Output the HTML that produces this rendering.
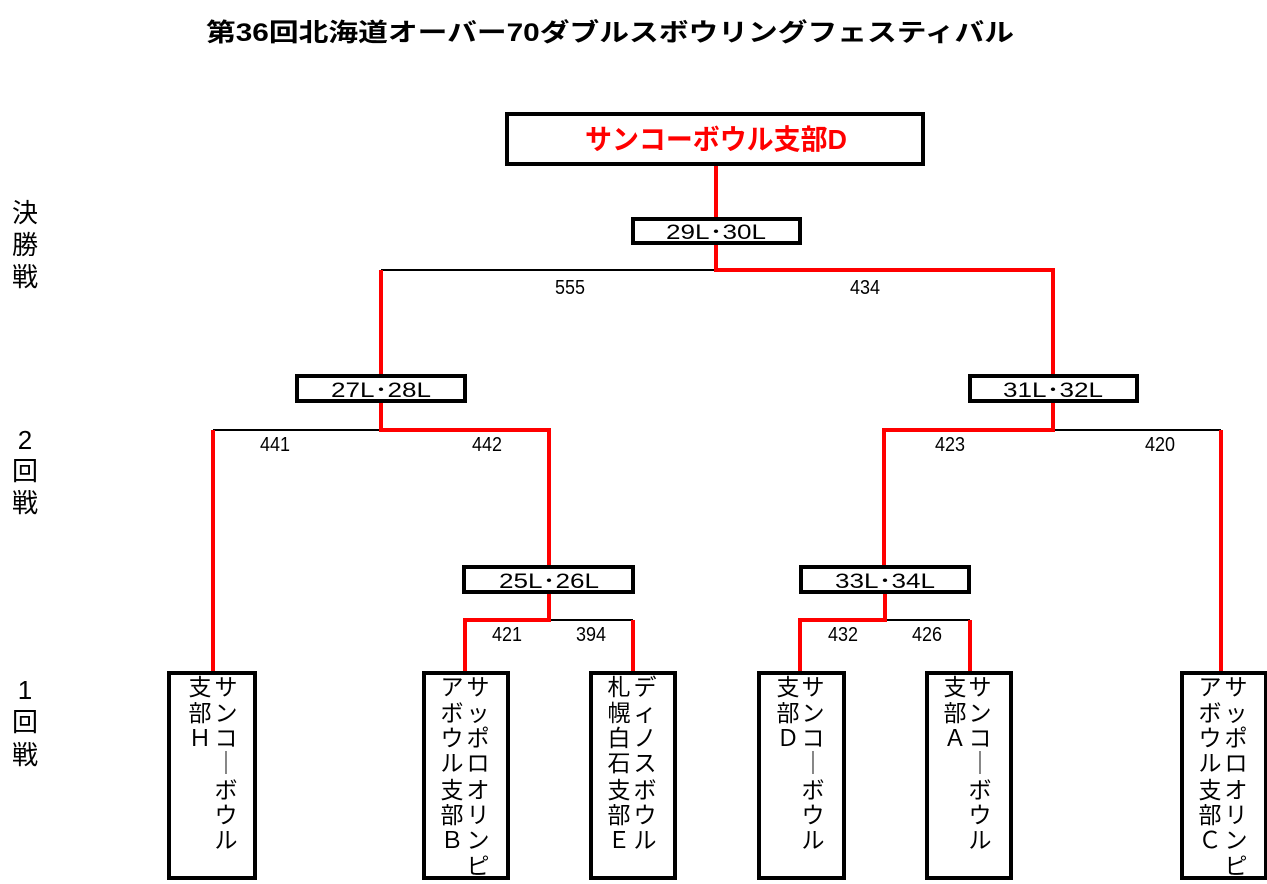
<!DOCTYPE html>
<html><head><meta charset="utf-8"><style>
html,body{margin:0;padding:0;background:#fff;}
svg{display:block;font-family:"Liberation Sans","Noto Sans CJK JP",sans-serif;}
</style></head><body>
<svg width="1267" height="884" viewBox="0 0 1267 884" xmlns="http://www.w3.org/2000/svg">
<text x="610" y="41" font-size="25" font-weight="bold" text-anchor="middle" textLength="808" lengthAdjust="spacingAndGlyphs">第36回北海道オーバー70ダブルスボウリングフェスティバル</text>

<g font-size="26" text-anchor="middle" dominant-baseline="central">
<text x="25" y="213">決</text><text x="25" y="245">勝</text><text x="25" y="277">戦</text>
<text x="25" y="440">2</text><text x="25" y="471">回</text><text x="25" y="503">戦</text>
<text x="25" y="690">1</text><text x="25" y="722">回</text><text x="25" y="755">戦</text>
</g>

<g stroke="#000" stroke-width="2" fill="none">
<line x1="381" y1="270" x2="716" y2="270"/>
<line x1="213" y1="430" x2="381" y2="430"/>
<line x1="1053" y1="430" x2="1221" y2="430"/>
<line x1="549" y1="620" x2="633" y2="620"/>
<line x1="885" y1="620" x2="970" y2="620"/>
</g>
<g stroke="#ff0000" stroke-width="4" fill="none">
<polyline points="716,165 716,270 1053,270 1053,375"/>
<line x1="381" y1="270" x2="381" y2="375"/>
<polyline points="381,402 381,430 549,430 549,566"/>
<line x1="213" y1="430" x2="213" y2="672"/>
<polyline points="1053,402 1053,430 884,430 884,566"/>
<line x1="1221" y1="430" x2="1221" y2="672"/>
<polyline points="549,593 549,620 465,620 465,672"/>
<line x1="633" y1="620" x2="633" y2="672"/>
<polyline points="885,593 885,620 800,620 800,672"/>
<line x1="970" y1="620" x2="970" y2="672"/>
</g>

<g stroke="#000" stroke-width="4" fill="#fff">
<rect x="507" y="114" width="416" height="50"/>
<rect x="633" y="219" width="167" height="24"/>
<rect x="297" y="376" width="168" height="25"/>
<rect x="970" y="376" width="167" height="25"/>
<rect x="464" y="567" width="169" height="25"/>
<rect x="801" y="567" width="168" height="25"/>
<rect x="169" y="673" width="86" height="205"/>
<rect x="424" y="673" width="84" height="205"/>
<rect x="591" y="673" width="84" height="205"/>
<rect x="759" y="673" width="85" height="205"/>
<rect x="927" y="673" width="84" height="205"/>
<rect x="1182" y="673" width="84" height="205"/>
</g>

<text x="716" y="149" font-size="28" font-weight="bold" fill="#ff0000" text-anchor="middle" textLength="262" lengthAdjust="spacingAndGlyphs">サンコーボウル支部D</text>
<g font-size="21" text-anchor="middle">
<text x="716" y="239" textLength="100" lengthAdjust="spacingAndGlyphs">29L･30L</text>
<text x="381" y="397" textLength="100" lengthAdjust="spacingAndGlyphs">27L･28L</text>
<text x="1053" y="397" textLength="100" lengthAdjust="spacingAndGlyphs">31L･32L</text>
<text x="549" y="588" textLength="100" lengthAdjust="spacingAndGlyphs">25L･26L</text>
<text x="885" y="588" textLength="100" lengthAdjust="spacingAndGlyphs">33L･34L</text>
</g>
<g font-size="20" text-anchor="middle">
<text x="570" y="294" textLength="30" lengthAdjust="spacingAndGlyphs">555</text>
<text x="865" y="294" textLength="30" lengthAdjust="spacingAndGlyphs">434</text>
<text x="275" y="451" textLength="30" lengthAdjust="spacingAndGlyphs">441</text>
<text x="487" y="451" textLength="30" lengthAdjust="spacingAndGlyphs">442</text>
<text x="950" y="451" textLength="30" lengthAdjust="spacingAndGlyphs">423</text>
<text x="1160" y="451" textLength="30" lengthAdjust="spacingAndGlyphs">420</text>
<text x="507" y="641" textLength="30" lengthAdjust="spacingAndGlyphs">421</text>
<text x="591" y="641" textLength="30" lengthAdjust="spacingAndGlyphs">394</text>
<text x="843" y="641" textLength="30" lengthAdjust="spacingAndGlyphs">432</text>
<text x="927" y="641" textLength="30" lengthAdjust="spacingAndGlyphs">426</text>
</g>

<g font-size="23" text-anchor="middle" dominant-baseline="central">
<text x="226" y="687">サ</text><text x="226" y="713">ン</text><text x="226" y="738">コ</text><text x="226" y="763">｜</text><text x="226" y="790">ボ</text><text x="226" y="815">ウ</text><text x="226" y="840">ル</text>
<text x="200" y="687">支</text><text x="200" y="713">部</text><text x="200" y="738">Ｈ</text>
<text x="478" y="687">サ</text><text x="478" y="713">ッ</text><text x="478" y="738">ポ</text><text x="478" y="763">ロ</text><text x="478" y="790">オ</text><text x="478" y="815">リ</text><text x="478" y="840">ン</text><text x="478" y="866">ピ</text>
<text x="452" y="687">ア</text><text x="452" y="713">ボ</text><text x="452" y="738">ウ</text><text x="452" y="763">ル</text><text x="452" y="790">支</text><text x="452" y="815">部</text><text x="452" y="840">Ｂ</text>
<text x="645" y="687">デ</text><text x="645" y="713">ィ</text><text x="645" y="738">ノ</text><text x="645" y="763">ス</text><text x="645" y="790">ボ</text><text x="645" y="815">ウ</text><text x="645" y="840">ル</text>
<text x="619" y="687">札</text><text x="619" y="713">幌</text><text x="619" y="738">白</text><text x="619" y="763">石</text><text x="619" y="790">支</text><text x="619" y="815">部</text><text x="619" y="840">Ｅ</text>
<text x="813" y="687">サ</text><text x="813" y="713">ン</text><text x="813" y="738">コ</text><text x="813" y="763">｜</text><text x="813" y="790">ボ</text><text x="813" y="815">ウ</text><text x="813" y="840">ル</text>
<text x="788" y="687">支</text><text x="788" y="713">部</text><text x="788" y="738">Ｄ</text>
<text x="980" y="687">サ</text><text x="980" y="713">ン</text><text x="980" y="738">コ</text><text x="980" y="763">｜</text><text x="980" y="790">ボ</text><text x="980" y="815">ウ</text><text x="980" y="840">ル</text>
<text x="955" y="687">支</text><text x="955" y="713">部</text><text x="955" y="738">Ａ</text>
<text x="1236" y="687">サ</text><text x="1236" y="713">ッ</text><text x="1236" y="738">ポ</text><text x="1236" y="763">ロ</text><text x="1236" y="790">オ</text><text x="1236" y="815">リ</text><text x="1236" y="840">ン</text><text x="1236" y="866">ピ</text>
<text x="1210" y="687">ア</text><text x="1210" y="713">ボ</text><text x="1210" y="738">ウ</text><text x="1210" y="763">ル</text><text x="1210" y="790">支</text><text x="1210" y="815">部</text><text x="1210" y="840">Ｃ</text>
</g>
</svg>
</body></html>
